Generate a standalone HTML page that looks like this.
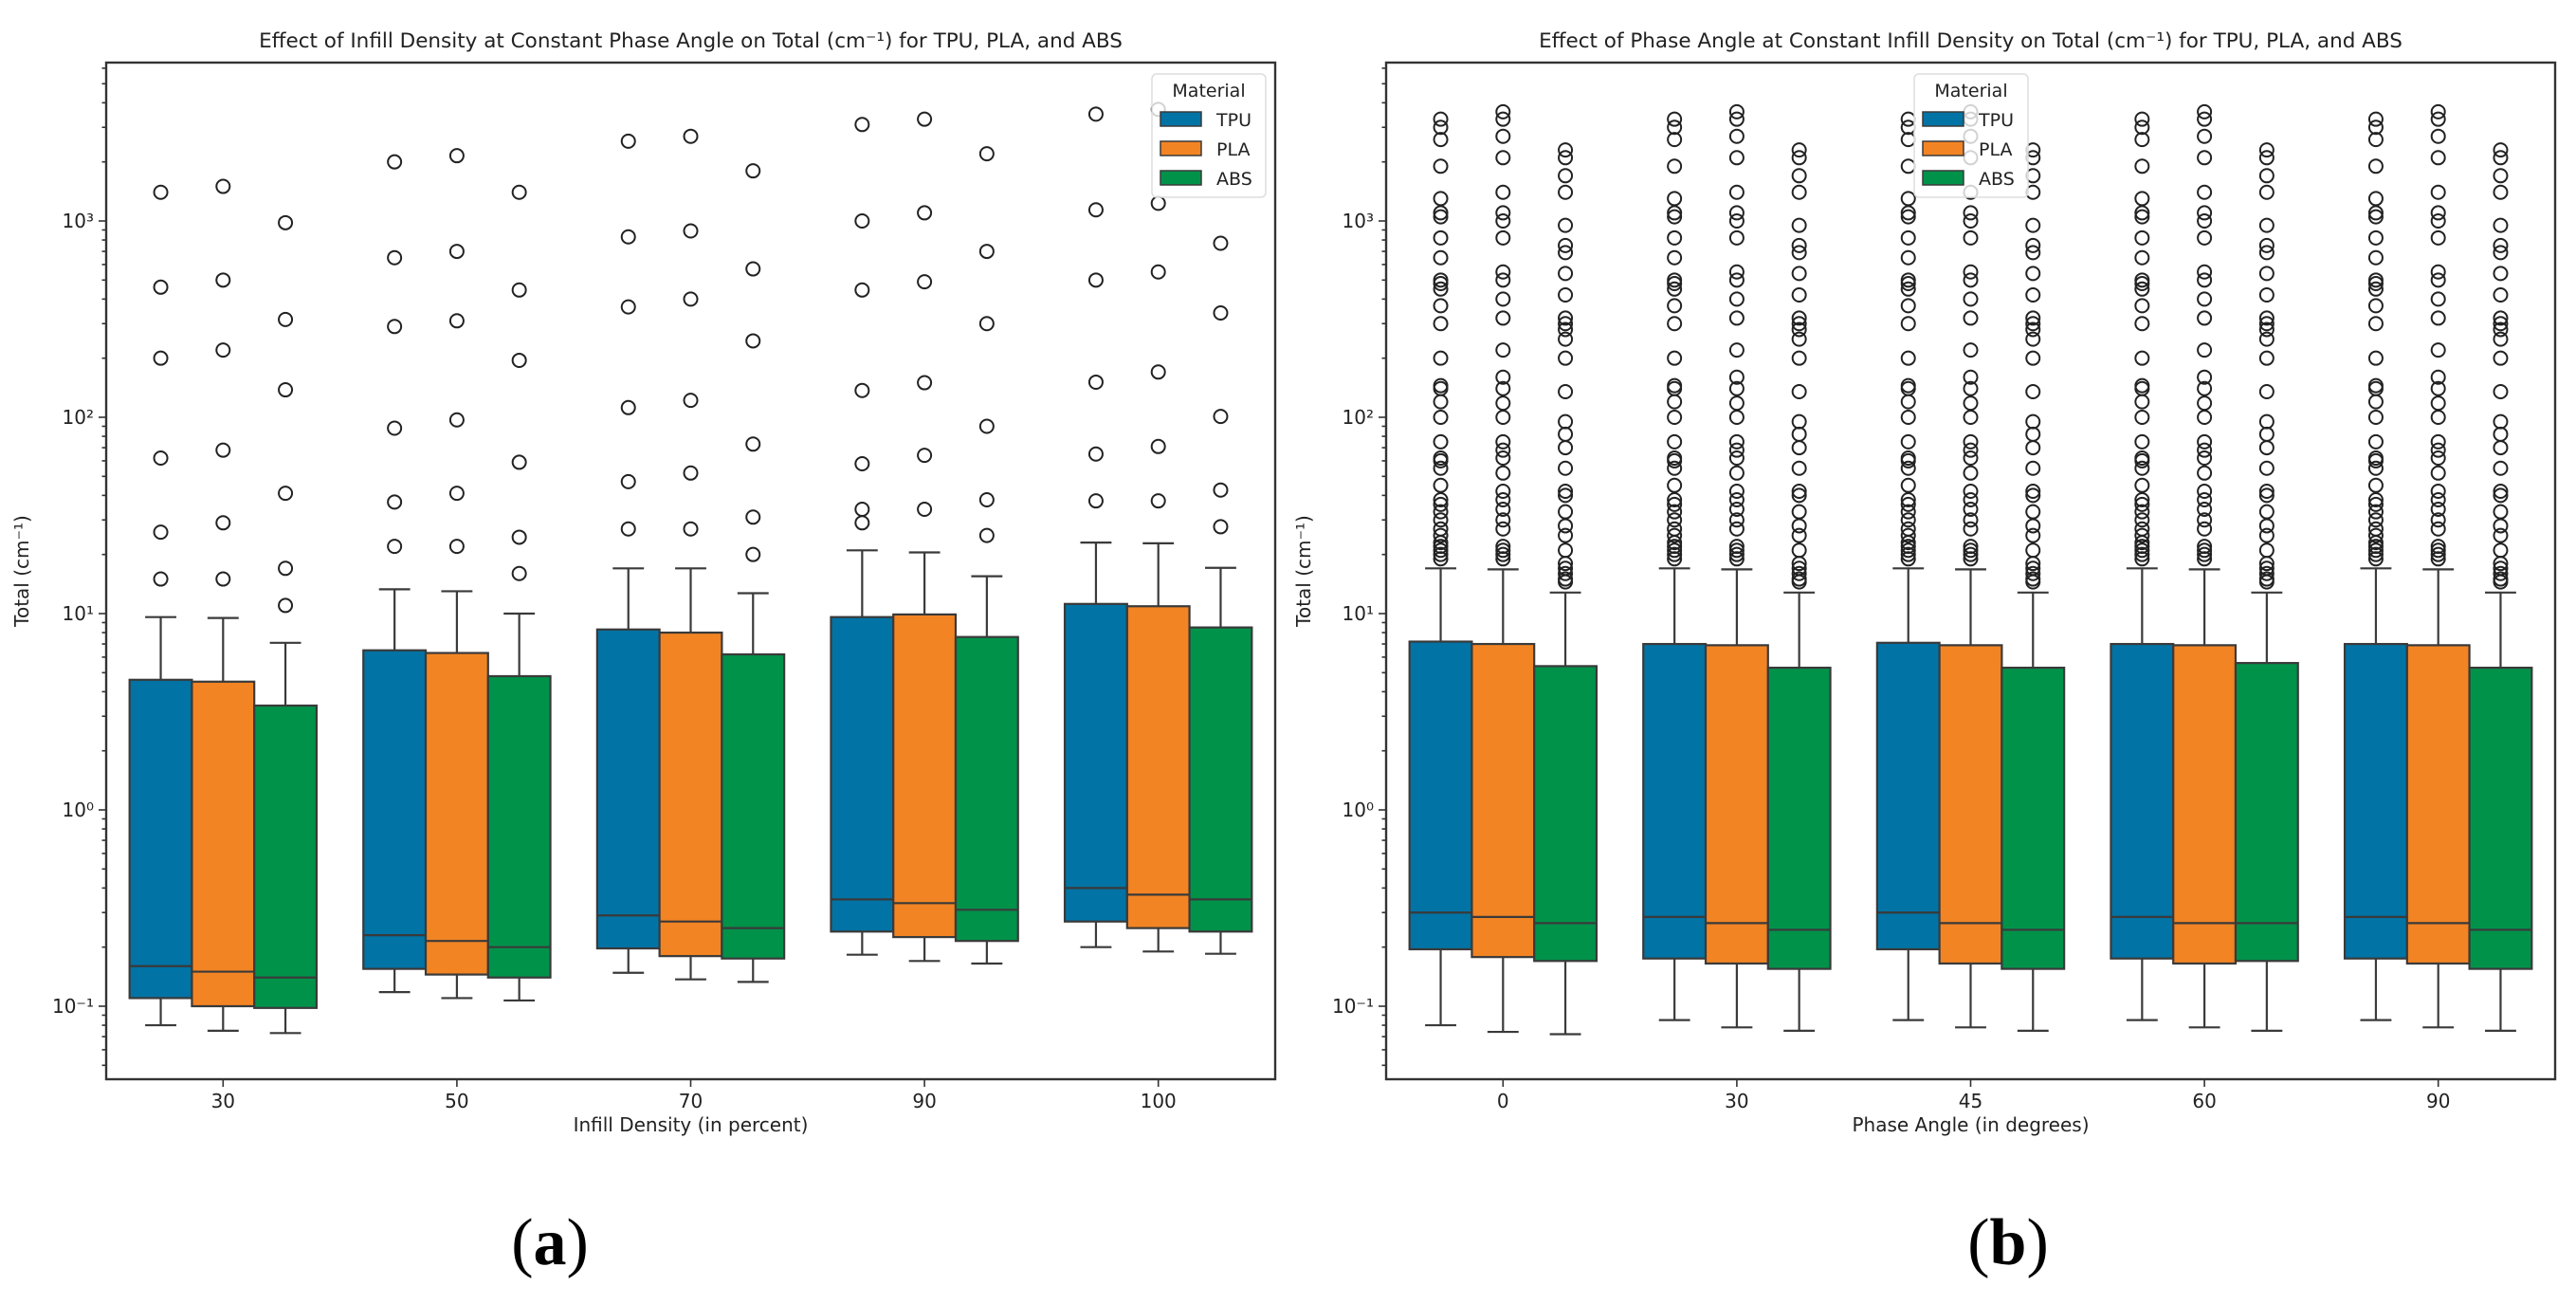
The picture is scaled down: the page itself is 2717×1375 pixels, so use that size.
<!DOCTYPE html>
<html><head><meta charset="utf-8"><style>
html,body{margin:0;padding:0;background:#fff;}
svg{display:block;font-family:"DejaVu Sans","Liberation Sans",sans-serif;}
</style></head><body>
<svg id="fig" width="2717" height="1375" viewBox="0 0 2717 1375" xmlns="http://www.w3.org/2000/svg"></svg>
<script>
// ---- Data ----
const materials = ["TPU","PLA","ABS"];
const colors = ["#0173a5","#f28424","#01924a"];
const catsA = ["30","50","70","90","100"];
const catsB = ["0","30","45","60","90"];
const yTickLabels = ["10⁻¹","10⁰","10¹","10²","10³"];
const yTickValues = [0.1,1,10,100,1000];
// each stat: [whiskerLow, Q1, median, Q3, whiskerHigh] per category
const statsA_TPU = [[0.08,0.11,0.16,4.6,9.6],[0.118,0.155,0.23,6.5,13.3],[0.148,0.197,0.29,8.3,17],[0.183,0.24,0.35,9.6,21],[0.20,0.27,0.40,11.2,23]];
const statsA_PLA = [[0.075,0.10,0.15,4.5,9.5],[0.11,0.145,0.215,6.3,13],[0.137,0.18,0.27,8.0,17],[0.17,0.225,0.335,9.9,20.5],[0.19,0.25,0.37,10.9,22.8]];
const statsA_ABS = [[0.073,0.098,0.14,3.4,7.1],[0.107,0.14,0.2,4.8,10],[0.133,0.175,0.25,6.2,12.7],[0.165,0.215,0.31,7.6,15.5],[0.185,0.24,0.35,8.5,17.1]];
const outA_TPU = [[15,26,62,200,460,1400],[22,37,88,290,650,2000],[27,47,112,365,830,2550],[29,34,58,137,445,1000,3100],[37.5,65,151,500,1140,3500]];
const outA_PLA = [[15,29,68,220,500,1500],[22,41,97,310,700,2150],[27,52,122,400,890,2700],[34,64,150,490,1100,3300],[37.5,71,170,550,1230,3700]];
const outA_ABS = [[11,17,41,138,315,980],[16,24.5,59,195,445,1400],[20,31,73,245,570,1800],[25,38,90,300,700,2200],[27.7,42.6,101,340,770]];
const statsB_TPU = [[0.08,0.195,0.30,7.2,17],[0.085,0.175,0.285,7.0,17],[0.085,0.195,0.30,7.1,17],[0.085,0.175,0.285,7.0,17],[0.085,0.175,0.285,7.0,17]];
const statsB_PLA = [[0.074,0.178,0.285,7.0,16.8],[0.078,0.165,0.265,6.9,16.8],[0.078,0.165,0.265,6.9,16.8],[0.078,0.165,0.265,6.9,16.8],[0.078,0.165,0.265,6.9,16.8]];
const statsB_ABS = [[0.072,0.17,0.265,5.4,12.8],[0.075,0.155,0.245,5.3,12.8],[0.075,0.155,0.245,5.3,12.8],[0.075,0.17,0.265,5.6,12.8],[0.075,0.155,0.245,5.3,12.8]];
const outB_TPU = [19,20,21,22,23,25,27,30,33,36,38,45,55,60,62,75,100,120,140,145,200,300,370,450,480,500,650,820,1050,1100,1300,1900,2600,3000,3300];
const outB_PLA = [19,20,21,22,27,30,34,38,42,52,62,68,75,100,118,140,160,220,320,400,500,550,820,1000,1100,1400,2100,2700,3300,3600];
const outB_ABS = [14.5,15,16,17,18,21,25,28,33,40,42,55,70,82,95,135,200,250,280,300,320,420,540,690,750,950,1400,1700,2100,2300];

// ---- Layout ----
const NS = "http://www.w3.org/2000/svg";
const svg = document.getElementById("fig");
const TOP = 66, BOT = 1138, Y3 = 233, DEC = 207;
function yScale(v){ return Y3 + (3 - Math.log10(v)) * DEC; }
function mk(tag, attrs, parent){ const e = document.createElementNS(NS, tag); for (const k in attrs) e.setAttribute(k, attrs[k]); (parent||svg).appendChild(e); return e; }

function drawPanel(id, left, right, cats, stats, outs, title, xlabel, ylabelX, legendX, panelLetter, letterX){
  const g = mk("g", {});
  
  
  const step = (right - left) / cats.length;
  const xScale = i => left + step * (i + 0.5);
  const bw = step * 0.8 / 3;
  // boxes
  for (let m = 0; m < 3; m++){
    for (let i = 0; i < cats.length; i++){
      const s = stats[m][i];
      const cx = xScale(i) + (m - 1) * bw;
      const bg = mk("g", {}, g);
      
      
      const ln = {stroke:"#3a3a3a","stroke-width":2.2};
      mk("line", Object.assign({x1:cx,x2:cx,y1:yScale(s[0]),y2:yScale(s[1])}, ln), bg);
      mk("line", Object.assign({x1:cx,x2:cx,y1:yScale(s[3]),y2:yScale(s[4])}, ln), bg);
      mk("line", Object.assign({x1:cx-bw/4,x2:cx+bw/4,y1:yScale(s[0]),y2:yScale(s[0])}, ln), bg);
      mk("line", Object.assign({x1:cx-bw/4,x2:cx+bw/4,y1:yScale(s[4]),y2:yScale(s[4])}, ln), bg);
      mk("rect", {x:cx-bw/2,y:yScale(s[3]),width:bw,height:yScale(s[1])-yScale(s[3]),fill:colors[m],stroke:"#3a3a3a","stroke-width":2.2}, bg);
      mk("line", Object.assign({x1:cx-bw/2,x2:cx+bw/2,y1:yScale(s[2]),y2:yScale(s[2])}, ln), bg);
      const o = Array.isArray(outs[m][0]) ? outs[m][i] : outs[m];
      for (const v of o){
        const c = mk("circle", {cx:cx, cy:yScale(v), r:7, fill:"none", stroke:"#222", "stroke-width":2}, bg);
        
        
      }
    }
  }
  // frame
  const fr = mk("rect", {x:left,y:TOP,width:right-left,height:BOT-TOP,fill:"none",stroke:"#333","stroke-width":2.4}, g);
  
  
  // y ticks
  for (let d = -2; d <= 3; d++){
    for (let k = 1; k <= 9; k++){
      const v = k * Math.pow(10, d);
      const y = yScale(v);
      if (y < TOP || y > BOT) continue;
      mk("line", {x1:left - (k===1?8:4.5), x2:left, y1:y, y2:y, stroke:"#333","stroke-width":1.6}, g);
    }
  }
  for (let t = 0; t < yTickValues.length; t++){
    const tx = mk("text", {x:left-13, y:yScale(yTickValues[t])+7, "text-anchor":"end","font-size":20, fill:"#222"}, g);
    tx.textContent = yTickLabels[t];
    
    
  }
  // x ticks
  for (let i = 0; i < cats.length; i++){
    mk("line", {x1:xScale(i),x2:xScale(i),y1:BOT,y2:BOT+8,stroke:"#333","stroke-width":1.6}, g);
    const tx = mk("text", {x:xScale(i), y:BOT+30, "text-anchor":"middle","font-size":20, fill:"#222"}, g);
    tx.textContent = cats[i];
    
    
  }
  const tt = mk("text", {x:(left+right)/2, y:50, "text-anchor":"middle","font-size":21.5, fill:"#222"}, g);
  tt.textContent = title;
  
  
  const xl = mk("text", {x:(left+right)/2, y:1193, "text-anchor":"middle","font-size":20, fill:"#222"}, g);
  xl.textContent = xlabel;
  
  
  const yl = mk("text", {x:ylabelX, y:(TOP+BOT)/2, "text-anchor":"middle","font-size":20, fill:"#222", transform:`rotate(-90 ${ylabelX} ${(TOP+BOT)/2})`}, g);
  yl.textContent = "Total (cm⁻¹)";
  
  
  // legend
  const lg = mk("g", {}, g);
  
  
  mk("rect", {x:legendX, y:78, width:120, height:130, rx:5, fill:"rgba(255,255,255,0.8)", stroke:"#ddd", "stroke-width":1.5}, lg);
  const lt = mk("text", {x:legendX+60, y:102, "text-anchor":"middle","font-size":19, fill:"#222"}, lg);
  lt.textContent = "Material";
  for (let m = 0; m < 3; m++){
    const e = mk("g", {}, lg);
    
    
    mk("rect", {x:legendX+9, y:118 + m*31, width:43, height:15, fill:colors[m], stroke:"#3a3a3a","stroke-width":1.5}, e);
    const t = mk("text", {x:legendX+68, y:133 + m*31, "font-size":19, fill:"#222"}, e);
    t.textContent = materials[m];
  }
  const pl = mk("text", {x:letterX, y:1333, "text-anchor":"middle","font-size":70, fill:"#000","font-family":"Liberation Serif, serif"}, g);
  pl.innerHTML = '(<tspan font-weight="bold">' + panelLetter + '</tspan>)';
  
  
}
drawPanel("panel-a", 112, 1345, catsA, [statsA_TPU,statsA_PLA,statsA_ABS], [outA_TPU,outA_PLA,outA_ABS],
  "Effect of Infill Density at Constant Phase Angle on Total (cm⁻¹) for TPU, PLA, and ABS", "Infill Density (in percent)", 30, 1215, "a", 580);
drawPanel("panel-b", 1462, 2695, catsB, [statsB_TPU,statsB_PLA,statsB_ABS], [outB_TPU,outB_PLA,outB_ABS],
  "Effect of Phase Angle at Constant Infill Density on Total (cm⁻¹) for TPU, PLA, and ABS", "Phase Angle (in degrees)", 1382, 2019, "b", 2118);
</script>
</body></html>
